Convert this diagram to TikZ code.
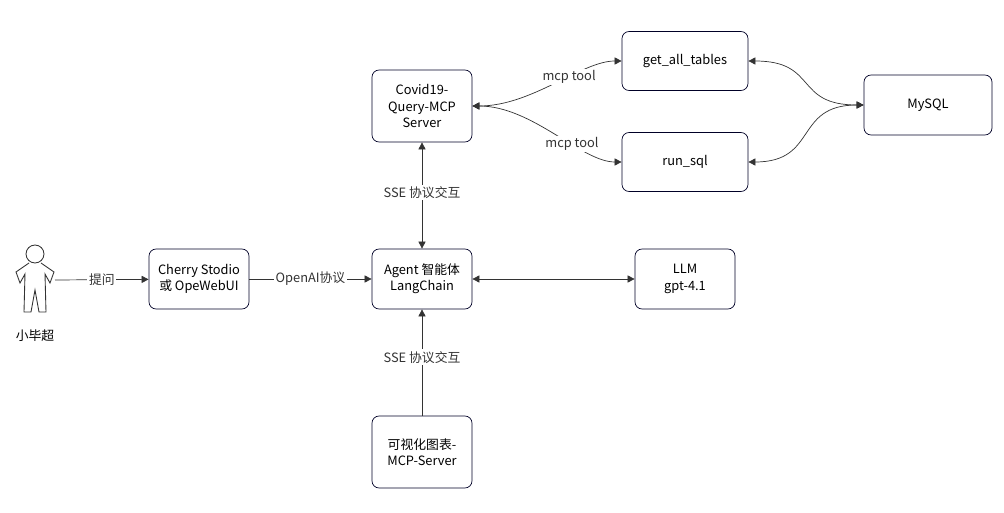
\documentclass[tikz,border=0pt]{standalone}
\usepackage{fontspec}
\setmainfont{Noto Sans CJK SC}
\usetikzlibrary{arrows.meta,positioning}
\tikzset{
  box/.style={draw=black!85!blue, rounded corners=4pt, align=center, minimum width=2cm, inner sep=1pt},
  lbl/.style={fill=white, inner sep=1pt},
  link/.style={-{Triangle[length=4pt,width=4pt]}, black!80},
  dlink/.style={{Triangle[length=4pt,width=4pt]}-{Triangle[length=4pt,width=4pt]}, black!80}
}
\begin{document}
\begin{tikzpicture}[x=0.02cm, y=-0.02cm, font=\fontsize{7.3}{9.3}\selectfont]
  \useasboundingbox (0,0) rectangle (1004,513);

  % boxes
  \node[box, minimum height=1.44cm] (covid) at (422,106) {Covid19-\\Query-MCP\\Server};
  \node[box, minimum width=2.52cm, minimum height=1.18cm] (tables) at (685,61) {get\_all\_tables};
  \node[box, minimum width=2.52cm, minimum height=1.18cm] (runsql) at (685,162) {run\_sql};
  \node[box, minimum width=2.56cm, minimum height=1.2cm] (mysql) at (928,105) {MySQL};
  \node[box, minimum height=1.2cm] (cherry) at (199,279) {Cherry Stodio\\或 OpeWebUI};
  \node[box, minimum height=1.2cm] (agent) at (422,279) {Agent 智能体\\LangChain};
  \node[box, minimum height=1.2cm] (llm) at (685,279) {LLM\\gpt-4.1};
  \node[box, minimum height=1.44cm] (chart) at (422,452) {可视化图表-\\MCP-Server};

  % user
  \coordinate (user) at (55,280);
  \draw[black!80, line width=0.5pt] (35,254) circle (9)
    (29,263) -- (16,272) -- (20,283) -- (25,274) -- (24,312) -- (31,312) -- (35,290)
    -- (39,312) -- (46,312) -- (45,274) -- (50,283) -- (54,272) -- (41,263);
  \node (username) at (35,336) {小毕超};

  % connectors
  \draw[link] (user) -- node[lbl] {提问} (cherry);
  \draw[link] (cherry) -- node[lbl] {OpenAI协议} (agent);
  \draw[dlink] (covid) -- node[lbl, pos=0.47] {SSE 协议交互} (agent);
  \draw[link] (chart) -- node[lbl, pos=0.55] {SSE 协议交互} (agent);
  \draw[dlink] (agent) -- (llm);
  \draw[dlink] (covid.east) .. controls +(60,0) and +(-40,0) .. node[lbl, pos=0.6] {mcp tool} (tables.west);
  \draw[dlink] (covid.east) .. controls +(60,0) and +(-40,0) .. node[lbl, pos=0.62] {mcp tool} (runsql.west);
  \draw[dlink] (tables.east) .. controls +(70,0) and +(-70,0) .. (mysql.west);
  \draw[dlink] (runsql.east) .. controls +(70,0) and +(-70,0) .. (mysql.west);
\end{tikzpicture}
\end{document}
